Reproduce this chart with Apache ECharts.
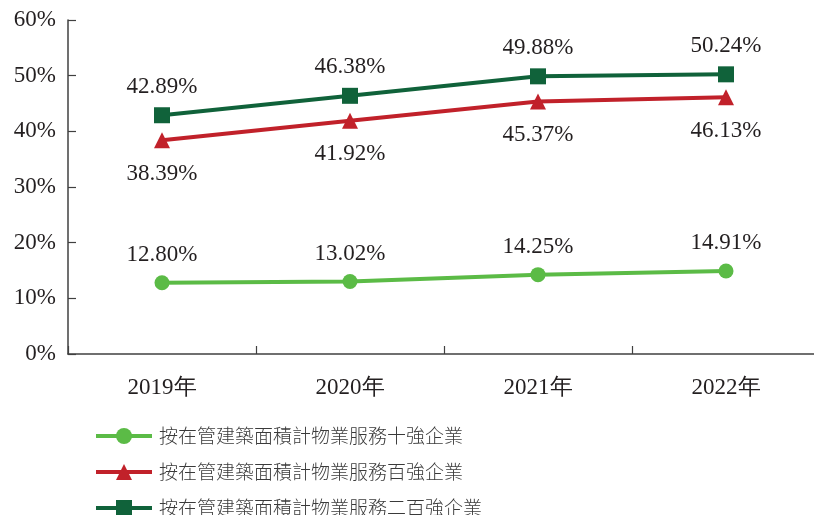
<!DOCTYPE html>
<html>
<head>
<meta charset="utf-8">
<script src="https://cdn.jsdelivr.net/npm/echarts@6/dist/echarts.min.js"></script>
<style>html,body{margin:0;padding:0;background:#fff;overflow:hidden}#c{width:820px;height:540px}</style>
</head>
<body>
<div id="c"></div>
<script>
var categories = ['2019年', '2020年', '2021年', '2022年'];
var top10 = [12.80, 13.02, 14.25, 14.91];
var top100 = [38.39, 41.92, 45.37, 46.13];
var top200 = [42.89, 46.38, 49.88, 50.24];
var names = ['按在管建築面積計物業服務十強企業', '按在管建築面積計物業服務百強企業', '按在管建築面積計物業服務二百強企業'];
var yTicks = [0, 10, 20, 30, 40, 50, 60];

var serif = 'Liberation Serif';
var chart = echarts.init(document.getElementById('c'));
function mk(name, data, color, symbol, size, pos, dist) {
  return {
    name: name, type: 'line', data: data,
    symbol: symbol, symbolSize: size,
    lineStyle: {color: color, width: 4},
    itemStyle: {color: color},
    label: {show: true, position: pos, distance: dist,
      formatter: function (p) { return p.value.toFixed(2) + '%'; },
      fontFamily: serif, fontSize: 23, color: '#231f20'},
    emphasis: {disabled: true}
  };
}
chart.setOption({
  animation: false,
  grid: {left: 68, top: 20, right: 0, bottom: 186},
  xAxis: {
    type: 'category', data: categories, boundaryGap: true,
    axisLine: {lineStyle: {color: '#404040', width: 1.5}},
    axisTick: {show: true, inside: true, length: 8, lineStyle: {color: '#404040', width: 1.2}},
    axisLabel: {fontFamily: serif, fontSize: 23, color: '#231f20', margin: 22}
  },
  yAxis: {
    type: 'value', min: yTicks[0], max: yTicks[yTicks.length - 1], interval: 10,
    axisLine: {show: true, lineStyle: {color: '#404040', width: 1.5}},
    axisTick: {show: true, inside: true, length: 8, lineStyle: {color: '#404040', width: 1.2}},
    splitLine: {show: false},
    axisLabel: {fontFamily: serif, fontSize: 23, color: '#231f20', margin: 12, formatter: '{value}%'}
  },
  legend: {
    orient: 'vertical', left: 94, top: 425, itemGap: 14, padding: 0,
    itemWidth: 56, itemHeight: 20,
    lineStyle: {width: 4},
    textStyle: {fontFamily: 'Noto Sans CJK TC', fontSize: 19, lineHeight: 22, color: '#3a3a3a', fontWeight: 300, padding: [0, 0, 0, 2]},
    data: names
  },
  series: [
    mk(names[0], top10, '#5bbb46', 'circle', 15, 'top', 9),
    mk(names[1], top100, '#c1212a', 'triangle', 16, 'bottom', 14),
    mk(names[2], top200, '#10623a', 'rect', 16, 'top', 9)
  ]
});
</script>
</body>
</html>
